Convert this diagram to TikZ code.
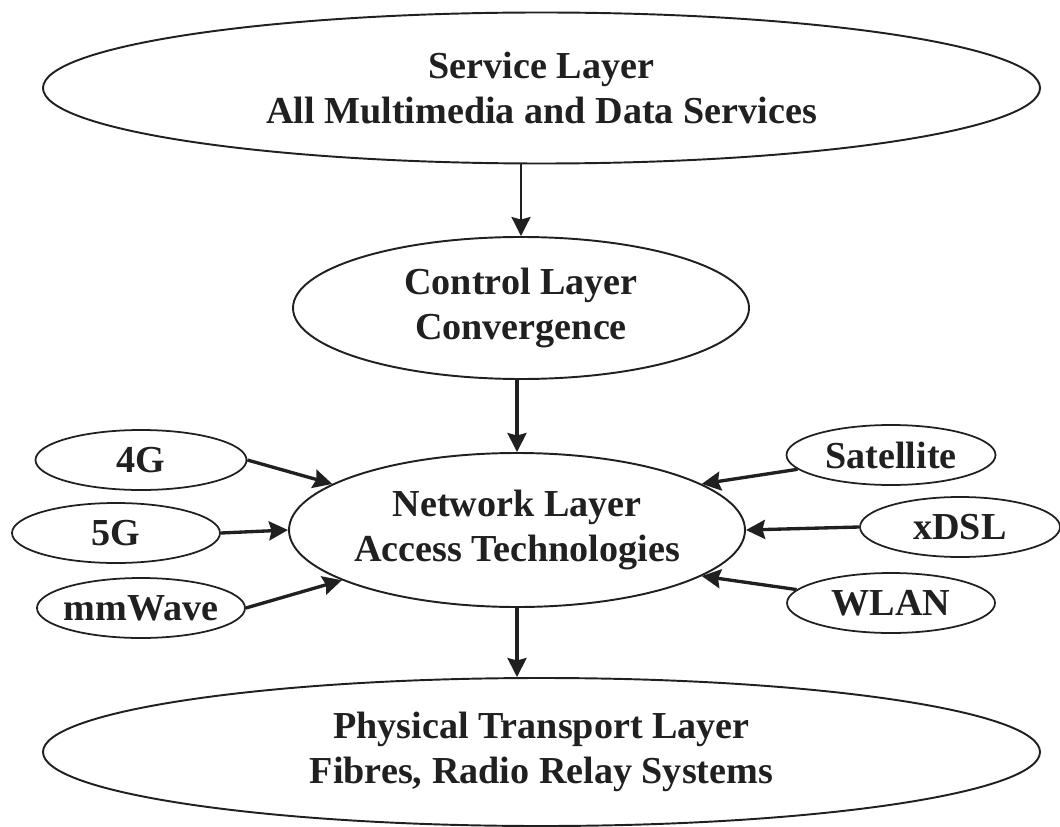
\documentclass[tikz,border=0pt]{standalone}
\usepackage{fontspec}
\setmainfont{Liberation Serif}
\usetikzlibrary{arrows.meta,shapes.geometric}
\definecolor{inkgray}{HTML}{202020}

\begin{document}
\begin{tikzpicture}[
  layer/.style={ellipse, draw=inkgray, line width=1.1pt, inner xsep=-0.3cm, inner ysep=0pt, align=center, text=inkgray, font=\bfseries\fontsize{21.7}{26}\selectfont},
  tech/.style={layer, line width=1pt, minimum width=4.16cm, minimum height=1.2cm},
  arr/.style={-{Stealth[length=3.8mm,width=3.8mm,inset=0.5mm]}, line width=1.9pt, draw=inkgray, fill=inkgray}
]
\useasboundingbox (0,0) rectangle (21.2,-16.52);

% layers
\node[layer, minimum width=19.94cm, minimum height=3.02cm] (S) at (10.83,-1.76) {Service Layer\\All Multimedia and Data Services};
\node[layer, minimum width=9.12cm, minimum height=2.84cm] (C) at (10.42,-6.16) {Control Layer\\Convergence};
\node[layer, minimum width=9.12cm, minimum height=3.08cm] (N) at (10.34,-10.6) {Network Layer\\Access Technologies};
\node[layer, minimum width=19.94cm, minimum height=2.96cm] (P) at (10.83,-15.04) {Physical Transport Layer\\Fibres, Radio Relay Systems};

% left access technologies
\node[tech, minimum width=4.22cm] (g4) at (2.82,-9.2) {4G};
\node[tech] (g5) at (2.32,-10.66) {5G};
\node[tech] (mmw) at (2.82,-12.16) {mmWave};

% right access technologies
\node[tech, minimum width=4.18cm] (sat) at (17.82,-9.1) {Satellite};
\node[tech, minimum width=4.0cm] (xdsl) at (19.2,-10.54) {xDSL};
\node[tech] (wlan) at (17.82,-12.06) {WLAN};

% arrows
\draw[arr, line width=1.4pt] (C.north |- S.south) -- (C.north);
\draw[arr] (N.north |- C.south) -- (N.north);
\draw[arr] (N.south) -- (N.south |- P.north);

\draw[arr] (g4.east) -- (N.166);
\draw[arr] (g5.east) -- (N.west);
\draw[arr] (mmw.east) -- (N.196);
\draw[arr] (sat) -- (N.14);
\draw[arr] (xdsl.west) -- (N.east);
\draw[arr] (wlan) -- (N.346);

\end{tikzpicture}
\end{document}
